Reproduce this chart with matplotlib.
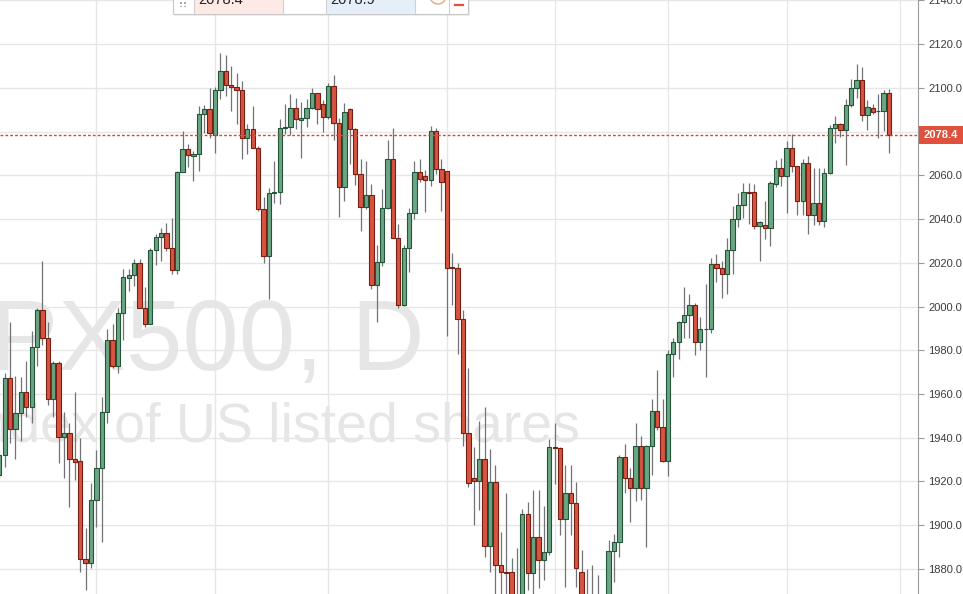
import numpy as np
import matplotlib.pyplot as plt
import matplotlib.transforms as mtransforms
from matplotlib.patches import Rectangle, Ellipse
from matplotlib.lines import Line2D

plt.rcParams['font.family'] = ['Liberation Sans', 'DejaVu Sans']

# daily OHLC (first bar is cut by the left edge)
opens = [1922.8, 1931.9, 1967.1, 1943.8, 1951.1, 1960.7, 1953.9, 1981.3, 1998.2, 1985.4,
         1957.5, 1974.0, 1940.2, 1942.0, 1930.1, 1929.2, 1884.5, 1882.6, 1911.4, 1926.0,
         1951.6, 1984.5, 1973.0, 1997.2, 2013.2, 2014.6, 2020.1, 1999.5, 1992.2, 2026.0,
         2031.9, 2033.8, 2026.9, 2016.9, 2061.6, 2072.1, 2068.9, 2069.8, 2088.1, 2090.4,
         2078.5, 2099.1, 2107.7, 2101.3, 2100.4, 2099.1, 2077.1, 2081.3, 2072.6, 2044.7,
         2023.3, 2052.0, 2052.5, 2081.7, 2082.2, 2090.8, 2085.4, 2086.3, 2090.8, 2097.7,
         2092.7, 2086.7, 2100.9, 2084.0, 2054.8, 2090.4, 2081.3, 2060.7, 2045.6, 2051.1,
         2010.0, 2020.5, 2045.2, 2067.6, 2031.5, 2000.9, 2026.9, 2042.9, 2061.6, 2059.8,
         2058.0, 2080.3, 2063.0, 2062.1, 2017.8, 2017.8, 1994.1, 1942.0, 1921.5, 1920.1,
         1930.1, 1890.4, 1919.6, 1881.7, 1878.5, 1878.5, 1856.0, 1864.0, 1905.0, 1878.1,
         1894.5, 1884.0, 1887.7, 1935.6, 1935.1, 1902.7, 1914.6, 1910.0, 1878.5, 1862.0,
         1857.0, 1864.0, 1860.0, 1862.0, 1888.1, 1892.2, 1931.0, 1921.5, 1916.9, 1936.1,
         1916.9, 1936.1, 1952.0, 1944.7, 1929.2, 1978.5, 1983.6, 1992.7, 1996.3, 2000.9,
         1983.6, 1989.5, 1989.9, 2019.6, 2017.8, 2015.0, 2026.0, 2040.2, 2046.6, 2052.5,
         2052.5, 2037.0, 2037.4, 2036.1, 2056.1, 2063.4, 2059.8, 2072.6, 2064.4, 2048.4,
         2065.7, 2042.0, 2047.5, 2039.3, 2061.2, 2081.7, 2083.5, 2080.8, 2092.2, 2100.0,
         2103.6, 2087.7, 2090.8, 2089.3, 2089.5, 2097.7]
highs = [1934.2, 1969.8, 1993.1, 1968.0, 1967.6, 1974.9, 1989.0, 1999.5, 2021.0, 1992.7,
         1975.3, 1975.3, 1951.6, 1946.6, 1960.7, 1939.7, 1898.6, 1919.2, 1934.2, 1958.4,
         1989.9, 1992.2, 1999.5, 2017.3, 2017.3, 2021.9, 2021.9, 2008.7, 2026.9, 2033.3,
         2036.1, 2038.3, 2040.6, 2062.1, 2080.3, 2074.4, 2071.2, 2091.8, 2092.2, 2100.0,
         2100.4, 2116.0, 2115.1, 2110.0, 2106.8, 2103.2, 2083.5, 2091.8, 2073.5, 2050.2,
         2054.3, 2066.6, 2085.8, 2092.7, 2097.2, 2095.4, 2093.6, 2095.0, 2100.0, 2097.7,
         2094.5, 2102.3, 2105.9, 2086.3, 2093.1, 2090.8, 2081.7, 2067.6, 2066.6, 2056.1,
         2028.3, 2053.9, 2076.2, 2081.7, 2037.9, 2028.3, 2045.2, 2066.6, 2067.6, 2062.5,
         2082.6, 2081.7, 2067.6, 2062.1, 2024.6, 2020.1, 1998.2, 1972.1, 1935.6, 1947.5,
         1953.9, 1934.7, 1927.4, 1896.8, 1914.6, 1884.9, 1889.5, 1907.3, 1910.5, 1916.0,
         1916.0, 1908.7, 1939.3, 1946.6, 1935.6, 1927.4, 1927.4, 1919.6, 1888.6, 1879.9,
         1881.7, 1877.2, 1866.0, 1893.1, 1895.9, 1931.9, 1937.0, 1926.0, 1946.6, 1940.6,
         1936.5, 1957.5, 1970.8, 1957.5, 1979.9, 1985.4, 1993.6, 2008.7, 2005.9, 2001.4,
         1995.4, 2010.5, 2022.4, 2024.2, 2021.0, 2031.5, 2046.1, 2052.0, 2056.6, 2056.6,
         2056.1, 2039.0, 2048.4, 2057.5, 2067.1, 2068.0, 2075.8, 2079.0, 2064.4, 2067.6,
         2068.9, 2063.4, 2063.4, 2063.4, 2083.1, 2087.2, 2084.0, 2095.0, 2104.1, 2110.9,
         2109.6, 2094.5, 2092.5, 2097.2, 2099.1, 2099.5]
lows = [1921.5, 1926.5, 1937.4, 1930.1, 1938.3, 1949.3, 1946.6, 1973.0, 1982.6, 1954.8,
        1949.3, 1928.3, 1921.5, 1908.2, 1920.5, 1878.5, 1870.3, 1880.4, 1899.1, 1892.2,
        1946.6, 1971.7, 1969.4, 1984.5, 2007.3, 2009.6, 1999.1, 1990.4, 1991.9, 2019.2,
        2021.0, 2025.6, 2015.0, 2015.0, 2061.4, 2063.9, 2057.5, 2062.1, 2079.4, 2077.1,
        2070.3, 2095.0, 2096.3, 2089.5, 2083.5, 2067.6, 2069.8, 2072.6, 2043.8, 2020.1,
        2003.6, 2047.5, 2047.0, 2079.0, 2078.5, 2081.3, 2068.0, 2082.2, 2090.4, 2083.5,
        2079.9, 2085.8, 2076.2, 2041.1, 2048.4, 2065.3, 2055.7, 2034.7, 2044.7, 2008.2,
        1992.7, 2018.7, 2044.7, 2031.5, 1999.5, 2000.4, 2016.0, 2040.2, 2057.1, 2043.4,
        2055.2, 2060.7, 2043.8, 1986.7, 2000.9, 1978.5, 1936.1, 1917.3, 1900.0, 1906.8,
        1885.4, 1878.5, 1866.0, 1865.0, 1864.0, 1855.0, 1850.0, 1858.0, 1870.3, 1866.0,
        1871.2, 1874.9, 1886.3, 1918.7, 1895.4, 1871.7, 1895.4, 1871.7, 1855.0, 1850.0,
        1852.0, 1853.0, 1855.0, 1858.0, 1874.0, 1885.4, 1914.6, 1901.4, 1910.9, 1911.4,
        1890.0, 1922.8, 1943.4, 1928.7, 1922.4, 1967.6, 1976.2, 1985.8, 1985.8, 1977.6,
        1979.9, 1967.6, 1988.1, 2011.0, 2004.1, 2005.9, 2015.0, 2036.5, 2040.6, 2037.9,
        2035.5, 2021.0, 2031.0, 2027.8, 2054.8, 2055.2, 2042.9, 2061.6, 2042.0, 2042.0,
        2033.3, 2037.4, 2037.4, 2036.5, 2060.7, 2074.9, 2077.6, 2064.8, 2091.3, 2095.4,
        2084.9, 2080.8, 2088.0, 2077.1, 2080.3, 2070.3]
closes = [1931.9, 1967.1, 1943.8, 1951.1, 1960.7, 1953.9, 1981.3, 1998.2, 1985.4, 1957.5,
          1974.0, 1940.2, 1942.0, 1930.1, 1928.7, 1884.5, 1882.6, 1911.4, 1926.0, 1951.6,
          1984.5, 1973.0, 1997.2, 2013.7, 2014.6, 2020.1, 1999.5, 1992.2, 2026.0, 2031.9,
          2033.8, 2026.9, 2016.9, 2061.6, 2072.1, 2069.4, 2069.8, 2088.1, 2090.4, 2079.4,
          2099.1, 2107.7, 2101.3, 2100.4, 2099.1, 2077.1, 2081.3, 2072.6, 2044.7, 2023.3,
          2052.0, 2052.5, 2081.7, 2082.2, 2090.8, 2085.8, 2086.3, 2090.8, 2097.7, 2090.4,
          2086.7, 2100.9, 2084.0, 2054.8, 2089.0, 2081.3, 2060.7, 2045.6, 2051.1, 2010.0,
          2020.5, 2045.2, 2067.6, 2031.5, 2000.9, 2026.9, 2042.9, 2061.6, 2058.4, 2058.0,
          2080.3, 2063.0, 2057.1, 2017.8, 2017.6, 1994.1, 1942.0, 1919.2, 1920.1, 1930.1,
          1890.4, 1919.6, 1881.7, 1878.5, 1878.3, 1860.0, 1864.0, 1905.0, 1878.1, 1894.5,
          1884.0, 1887.7, 1935.6, 1935.1, 1902.7, 1914.6, 1910.0, 1880.4, 1862.0, 1857.0,
          1864.0, 1860.0, 1864.0, 1888.1, 1892.2, 1931.0, 1921.5, 1916.9, 1936.1, 1916.9,
          1936.1, 1952.0, 1944.7, 1929.2, 1978.5, 1983.6, 1992.7, 1996.3, 2000.9, 1983.6,
          1989.5, 1989.9, 2019.6, 2017.8, 2015.0, 2026.0, 2040.2, 2046.6, 2052.5, 2052.0,
          2037.0, 2038.8, 2036.1, 2056.6, 2063.4, 2059.8, 2072.6, 2064.4, 2048.4, 2065.7,
          2042.0, 2047.5, 2039.3, 2061.2, 2081.7, 2083.5, 2080.8, 2092.2, 2100.0, 2103.6,
          2087.7, 2091.3, 2089.0, 2089.5, 2097.7, 2078.4]

month_starts = [18, 40, 61, 83, 103, 124, 146, 167]
price_ticks = list(range(1880, 2141, 20))
last_price = 2078.4
bid, ask = "2078.4", "2078.9"
watermark = "SPX500, D"
subtitle = "Index of US listed shares"

W, H = 963, 594


def fx(x):
    return x / W


def fy(y):
    return 1 - y / H


fig = plt.figure(figsize=(W / 100, H / 100), dpi=100)
ax = fig.add_axes([0, 0, 918 / W, 1])

o = np.array(opens)
c = np.array(closes)
x = np.arange(len(o))
up = c >= o

ax.vlines(x, lows, highs, color='#737375', lw=0.9, zorder=2)
bottom = np.minimum(o, c)
height = np.maximum(np.abs(c - o), 0.35)
ax.bar(x, height, bottom=bottom, width=0.8,
       color=np.where(up, '#6ba583', '#d75442'),
       edgecolor=np.where(up, '#225437', '#7a1e12'), linewidth=0.8, zorder=3)

ax.axhline(last_price, color='#ea3f28', lw=1.0, ls=(0, (2, 1.5)), zorder=4)

ax.set_xlim(0.128, 170.38)
ax.set_ylim(1868.5, 2140.2)
ax.set_yticks(price_ticks)
# the 2080 label sits under the last-price box
ax.set_yticklabels(["" if t == 2080 else f"{t:.1f}" for t in price_ticks])
ax.yaxis.tick_right()
ax.tick_params(axis='y', labelsize=8, labelcolor='#3c3c3c', length=4, width=0.8,
               color='#9a9a9a', pad=3.5)
ax.set_xticks([])
ax.grid(axis='y', color='#e6e6e6', lw=1)
for m in month_starts:
    ax.axvline(m, color='#e6e6e6', lw=1, zorder=0.5)
ax.set_axisbelow(True)
for s in ['top', 'left', 'bottom']:
    ax.spines[s].set_visible(False)
ax.spines['right'].set_color('#9b9b9b')

# watermark
ax.text(fx(425), fy(370), watermark, transform=fig.transFigure, ha='right',
        va='baseline', fontsize=73, color='#e6e6e6', zorder=0.2)
ax.text(fx(580), fy(441), subtitle, transform=fig.transFigure, ha='right',
        va='baseline', fontsize=40, color='#e6e6e6', zorder=0.2)

# last price label on the axis
fb = mtransforms.blended_transform_factory(fig.transFigure, ax.transData)
fig.add_artist(Rectangle((fx(919), last_price - 4.2), fx(44), 8.4,
                         transform=fb, facecolor='#e0503c', edgecolor='none',
                         zorder=5))
fig.text(fx(941), last_price, f"{last_price:.1f}", transform=fb, ha='center',
         va='center', fontsize=8, color='white', fontweight='bold', zorder=6)

# trade panel at the top
fig.add_artist(Rectangle((fx(174), fy(16)), fx(296), 16 / H, facecolor='#000000',
                         alpha=0.06, edgecolor='none', zorder=7))
fig.add_artist(Rectangle((fx(173), fy(14)), fx(295), 16 / H, facecolor='white',
                         edgecolor='#c8c8c8', lw=0.8, zorder=8))
fig.add_artist(Rectangle((fx(194), fy(13.5)), fx(89), 15 / H, facecolor='#fde9e6',
                         edgecolor='none', zorder=8.5))
fig.add_artist(Rectangle((fx(326), fy(13.5)), fx(89), 15 / H, facecolor='#e5effa',
                         edgecolor='none', zorder=8.5))
for xd in [194, 283, 326, 415, 449]:
    fig.add_artist(Line2D([fx(xd), fx(xd)], [fy(14), 1], color='#d0d0d0', lw=0.8,
                          zorder=9))
for gx in [180, 184]:
    for gy in [2.5, 6]:
        fig.add_artist(Rectangle((fx(gx), fy(gy + 1.2)), fx(1.5), 1.5 / H,
                                 facecolor='#a8a8a8', edgecolor='none', zorder=9))
fig.text(fx(198), fy(4), bid, ha='left', va='baseline', fontsize=10.5,
         color='#222222', zorder=10)
fig.text(fx(330), fy(4), ask, ha='left', va='baseline', fontsize=10.5,
         color='#222222', zorder=10)
fig.add_artist(Ellipse((fx(438), fy(-4)), fx(16), 16 / H, facecolor='none',
                       edgecolor='#f4a26c', lw=1.0, zorder=10))
fig.add_artist(Line2D([fx(455), fx(463)], [fy(4.7), fy(4.7)], color='#e0533f',
                      lw=1.6, zorder=10))

fig.savefig('out.png', dpi=100)
